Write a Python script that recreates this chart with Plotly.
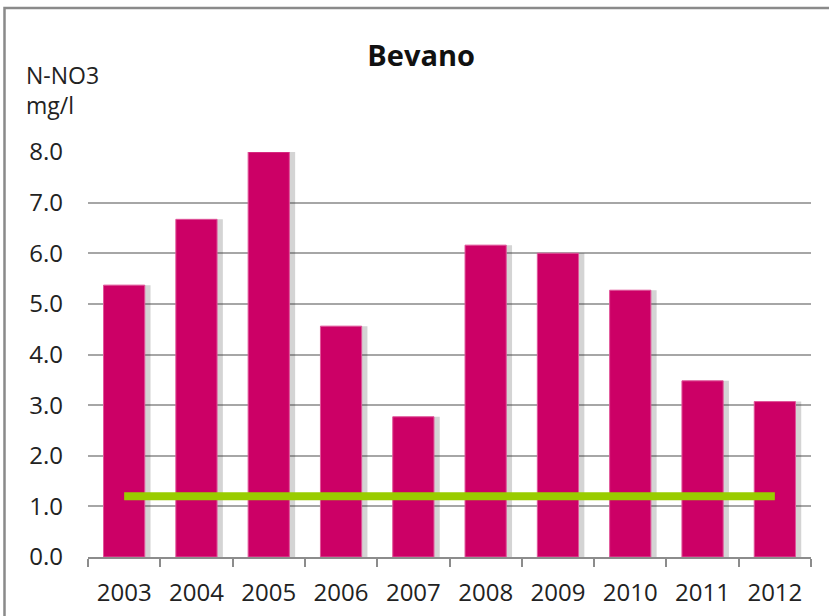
import plotly.graph_objects as go

# Data
years = ['2003', '2004', '2005', '2006', '2007', '2008', '2009', '2010', '2011', '2012']
nitrate = [5.37, 6.67, 8.0, 4.56, 2.77, 6.16, 6.0, 5.27, 3.48, 3.07]
target_years = ['2003', '2012']
target_value = [1.2, 1.2]
y_ticks = [0, 1, 2, 3, 4, 5, 6, 7, 8]

font_name = 'Open Sans, Noto Sans, sans-serif'

fig = go.Figure()

# soft grey shadow behind each bar
fig.add_trace(go.Bar(
    x=years, y=nitrate,
    width=0.57, offset=-0.285 + 0.08,
    marker=dict(color='rgba(60,60,60,0.22)', line=dict(width=0)),
    hoverinfo='skip', showlegend=False
))

fig.add_trace(go.Bar(
    x=years, y=nitrate,
    width=0.57, offset=-0.285,
    marker=dict(color='#cc0066', line=dict(color='#e0559a', width=1)),
    name='N-NO3', showlegend=False
))

fig.add_trace(go.Scatter(
    x=target_years, y=target_value,
    mode='lines',
    line=dict(color='#99cc00', width=8),
    showlegend=False
))

fig.update_layout(
    width=829, height=616,
    barmode='overlay',
    paper_bgcolor='white', plot_bgcolor='white',
    margin=dict(l=88, r=18, t=152, b=59),
    font=dict(family=font_name, color='#222222'),
    title=dict(text='<b>Bevano</b>', x=0.508, xanchor='center', y=0.91, yanchor='middle',
               font=dict(size=29, color='#111111')),
    xaxis=dict(type='category', tickson='boundaries', ticks='outside', ticklen=8,
               tickcolor='#8c8c8c', tickwidth=1.5, automargin=False,
               showline=True, linecolor='#8c8c8c', linewidth=1.5,
               showgrid=False, tickfont=dict(size=24), ticklabelstandoff=13),
    yaxis=dict(range=[0, 8], tickvals=y_ticks, tickformat='.1f', automargin=False,
               showgrid=True, gridcolor='#a6a6a6', gridwidth=1.5,
               zeroline=False, showline=False, ticks='', ticklen=0,
               tickfont=dict(size=24), ticklabelstandoff=24),
    shapes=[dict(type='rect', xref='paper', yref='paper',
                 x0=-0.1155, x1=1.04, y0=-0.17, y1=1.3556,
                 line=dict(color='#8a8a8a', width=2.5), layer='below')],
    annotations=[dict(text='N-NO3<br>mg/l', xref='paper', yref='paper',
                      x=-0.088, y=1.235, xanchor='left', yanchor='top',
                      align='left', showarrow=False,
                      font=dict(size=23, color='#222222'))]
)

fig.write_html('out.html', config={'displayModeBar': False},
               post_script="document.body.style.margin='0px';")
